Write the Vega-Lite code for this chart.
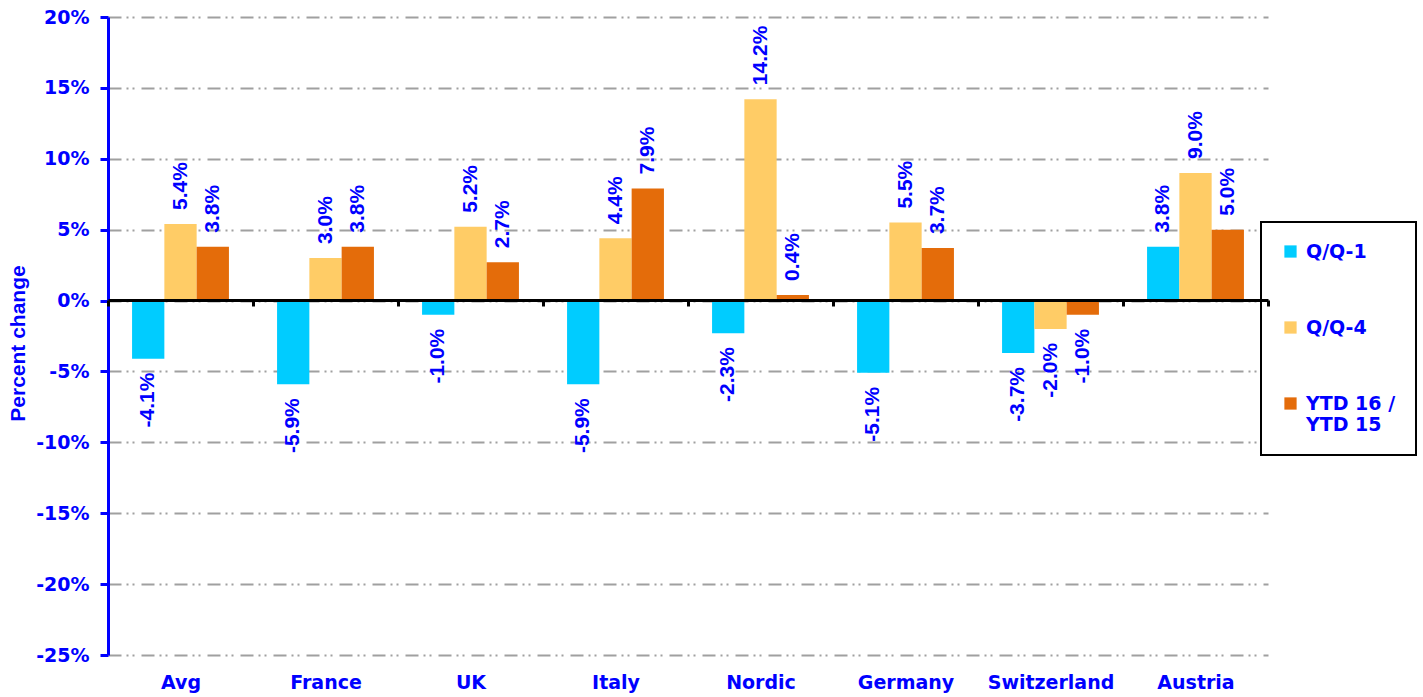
{
  "$schema": "https://vega.github.io/schema/vega-lite/v6.json",
  "width": 1160,
  "height": 638,
  "autosize": {"type": "none"},
  "padding": {"left": 108, "top": 17, "right": 155, "bottom": 42},
  "background": "white",
  "config": {
    "view": {"stroke": null},
    "font": "DejaVu Sans",
    "locale": {
      "number": {
        "decimal": ".",
        "thousands": ",",
        "grouping": [3],
        "currency": ["$", ""],
        "minus": "-"
      }
    },
    "legend": {
      "orient": "none",
      "legendX": 1153,
      "legendY": 205,
      "strokeColor": "black",
      "strokeWidth": 2,
      "fillColor": "white",
      "padding": 20
    }
  },
  "data": {
    "values": [
      {"region": "Avg", "series": "Q/Q-1", "value": -0.041},
      {"region": "Avg", "series": "Q/Q-4", "value": 0.054},
      {"region": "Avg", "series": "YTD 16 / YTD 15", "value": 0.038},
      {"region": "France", "series": "Q/Q-1", "value": -0.059},
      {"region": "France", "series": "Q/Q-4", "value": 0.030},
      {"region": "France", "series": "YTD 16 / YTD 15", "value": 0.038},
      {"region": "UK", "series": "Q/Q-1", "value": -0.010},
      {"region": "UK", "series": "Q/Q-4", "value": 0.052},
      {"region": "UK", "series": "YTD 16 / YTD 15", "value": 0.027},
      {"region": "Italy", "series": "Q/Q-1", "value": -0.059},
      {"region": "Italy", "series": "Q/Q-4", "value": 0.044},
      {"region": "Italy", "series": "YTD 16 / YTD 15", "value": 0.079},
      {"region": "Nordic", "series": "Q/Q-1", "value": -0.023},
      {"region": "Nordic", "series": "Q/Q-4", "value": 0.142},
      {"region": "Nordic", "series": "YTD 16 / YTD 15", "value": 0.004},
      {"region": "Germany", "series": "Q/Q-1", "value": -0.051},
      {"region": "Germany", "series": "Q/Q-4", "value": 0.055},
      {"region": "Germany", "series": "YTD 16 / YTD 15", "value": 0.037},
      {"region": "Switzerland", "series": "Q/Q-1", "value": -0.037},
      {"region": "Switzerland", "series": "Q/Q-4", "value": -0.020},
      {"region": "Switzerland", "series": "YTD 16 / YTD 15", "value": -0.010},
      {"region": "Austria", "series": "Q/Q-1", "value": 0.038},
      {"region": "Austria", "series": "Q/Q-4", "value": 0.090},
      {"region": "Austria", "series": "YTD 16 / YTD 15", "value": 0.050}
    ]
  },
  "encoding": {
    "x": {
      "field": "region",
      "type": "nominal",
      "sort": null,
      "scale": {"paddingInner": 0, "paddingOuter": 0},
      "axis": {
        "title": null,
        "offset": -355,
        "domainColor": "black",
        "domainWidth": 3,
        "tickColor": "black",
        "tickWidth": 3,
        "tickSize": 6,
        "tickBand": "extent",
        "labelPadding": 367,
        "labelAngle": 0,
        "labelFont": "DejaVu Sans",
        "labelFontWeight": "bold",
        "labelFontSize": 19,
        "labelColor": "#0000FF",
        "zindex": 1
      }
    },
    "xOffset": {
      "field": "series",
      "type": "nominal",
      "sort": null,
      "scale": {"paddingOuter": 0.745, "paddingInner": 0}
    },
    "y": {
      "field": "value",
      "type": "quantitative",
      "scale": {"domain": [-0.25, 0.2], "nice": false, "zero": false},
      "axis": {
        "values": [-0.25, -0.2, -0.15, -0.1, -0.05, 0, 0.05, 0.1, 0.15, 0.2],
        "format": ".0%",
        "grid": true,
        "gridColor": "#A0A0A0",
        "gridWidth": 2,
        "gridDash": [13, 5, 2, 4, 2, 7],
        "domainColor": "#0000FF",
        "domainWidth": 3,
        "tickColor": "#0000FF",
        "tickWidth": 3,
        "tickSize": 8,
        "labelPadding": 11,
        "labelFont": "DejaVu Sans",
        "labelFontWeight": "bold",
        "labelFontSize": 19,
        "labelColor": "#0000FF",
        "title": "Percent change",
        "titleFont": "Liberation Sans",
        "titleFontWeight": "bold",
        "titleFontSize": 21,
        "titleColor": "#0000FF",
        "titleX": -80,
        "titleY": 326,
        "titleAngle": -90,
        "titleAlign": "center",
        "titleBaseline": "bottom"
      }
    }
  },
  "layer": [
    {
      "mark": {"type": "bar"},
      "encoding": {
        "color": {
          "field": "series",
          "type": "nominal",
          "sort": null,
          "scale": {
            "domain": ["Q/Q-1", "Q/Q-4", "YTD 16 / YTD 15"],
            "range": ["#00CCFF", "#FFCC66", "#E46C0A"]
          },
          "legend": {
            "title": null,
            "symbolType": "square",
            "symbolSize": 150,
            "symbolStrokeWidth": 0,
            "labelFont": "DejaVu Sans",
            "labelFontWeight": "bold",
            "labelFontSize": 19,
            "labelColor": "#0000FF",
            "labelOffset": 6,
            "labelLimit": 300,
            "rowPadding": 56,
            "labelExpr": "datum.label == 'YTD 16 / YTD 15' ? ['YTD 16 /', 'YTD 15'] : datum.label"
          }
        }
      }
    },
    {
      "transform": [{"filter": "datum.value >= 0"}],
      "mark": {
        "type": "text",
        "angle": 270,
        "align": "left",
        "baseline": "middle",
        "dx": 14,
        "font": "Liberation Sans",
        "fontWeight": "bold",
        "fontSize": 21,
        "color": "#0000FF"
      },
      "encoding": {
        "text": {"field": "value", "type": "quantitative", "format": ".1%"}
      }
    },
    {
      "transform": [{"filter": "datum.value < 0"}],
      "mark": {
        "type": "text",
        "angle": 270,
        "align": "right",
        "baseline": "middle",
        "dx": -14,
        "font": "Liberation Sans",
        "fontWeight": "bold",
        "fontSize": 21,
        "color": "#0000FF"
      },
      "encoding": {
        "text": {"field": "value", "type": "quantitative", "format": ".1%"}
      }
    }
  ]
}
